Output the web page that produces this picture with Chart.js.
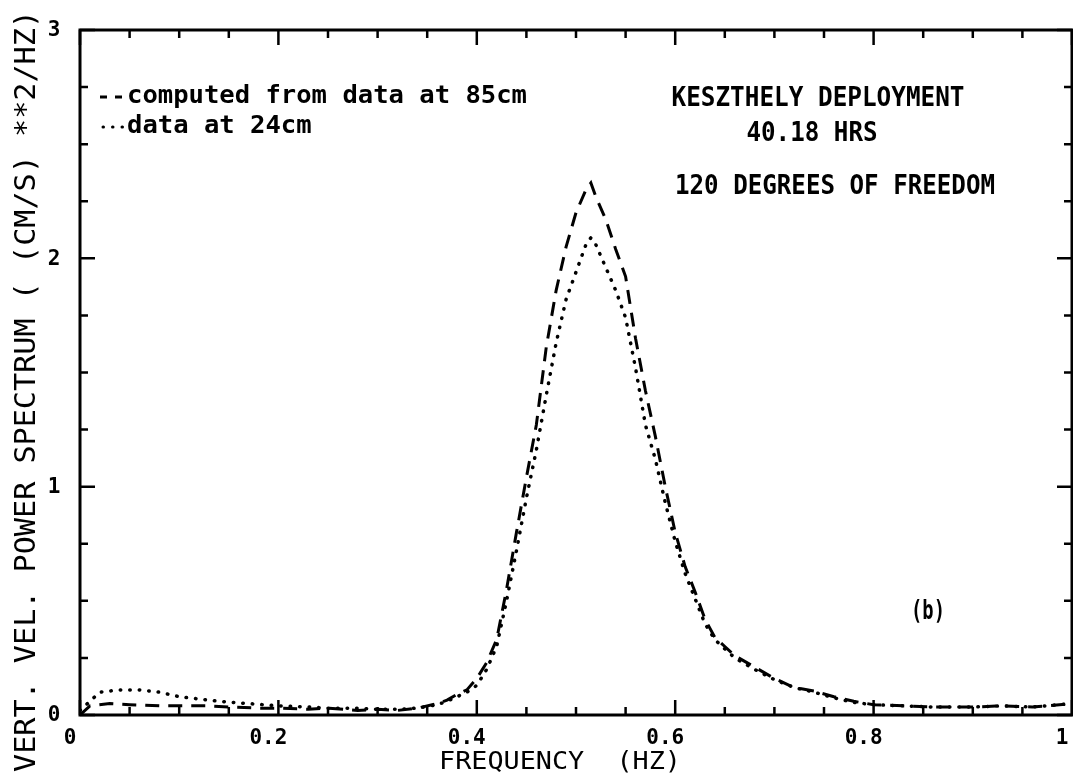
<!DOCTYPE html>
<html>
<head>
<meta charset="utf-8">
<script src="https://cdn.jsdelivr.net/npm/chart.js@4.4.1/dist/chart.umd.min.js"></script>
<style>
  html, body { margin: 0; padding: 0; background: #fff; }
  #spectrum { display: block; }
</style>
</head>
<body>
<canvas id="spectrum" width="1073" height="782"></canvas>
<script>
// Vertical velocity power spectrum, Keszthely deployment
const freqs85 = [0, 0.01, 0.03, 0.05, 0.08, 0.10, 0.13, 0.15, 0.18, 0.20, 0.23, 0.25, 0.28, 0.30,
  0.32, 0.34, 0.36, 0.37, 0.38, 0.39, 0.40, 0.41, 0.42, 0.43, 0.44, 0.45, 0.46, 0.47, 0.48, 0.49,
  0.50, 0.51, 0.515, 0.52, 0.53, 0.54, 0.55, 0.56, 0.57, 0.58, 0.59, 0.60, 0.61, 0.62, 0.63, 0.64,
  0.65, 0.66, 0.68, 0.70, 0.72, 0.74, 0.76, 0.78, 0.80, 0.83, 0.86, 0.90, 0.93, 0.96, 1.0];
const power85 = [0.0, 0.04, 0.05, 0.045, 0.04, 0.04, 0.04, 0.035, 0.03, 0.03, 0.025, 0.03, 0.02, 0.025,
  0.02, 0.03, 0.05, 0.065, 0.09, 0.11, 0.16, 0.23, 0.33, 0.55, 0.80, 1.04, 1.27, 1.61, 1.86, 2.05,
  2.20, 2.30, 2.33, 2.27, 2.17, 2.04, 1.92, 1.65, 1.42, 1.22, 1.00, 0.80, 0.65, 0.54, 0.42, 0.34,
  0.30, 0.26, 0.21, 0.16, 0.12, 0.105, 0.08, 0.06, 0.045, 0.04, 0.035, 0.035, 0.04, 0.035, 0.05];

const freqs24 = [0, 0.01, 0.02, 0.04, 0.06, 0.08, 0.10, 0.12, 0.14, 0.17, 0.20, 0.23, 0.25, 0.28,
  0.30, 0.32, 0.34, 0.36, 0.37, 0.38, 0.39, 0.40, 0.41, 0.42, 0.43, 0.44, 0.45, 0.46, 0.47, 0.48,
  0.49, 0.50, 0.51, 0.515, 0.52, 0.53, 0.54, 0.55, 0.56, 0.57, 0.58, 0.59, 0.60, 0.61, 0.62, 0.63,
  0.64, 0.65, 0.66, 0.68, 0.70, 0.72, 0.74, 0.76, 0.78, 0.80, 0.83, 0.86, 0.90, 0.93, 0.96, 1.0];
const power24 = [0.02, 0.06, 0.10, 0.11, 0.11, 0.10, 0.08, 0.07, 0.06, 0.05, 0.04, 0.035, 0.03, 0.03,
  0.025, 0.025, 0.03, 0.045, 0.06, 0.08, 0.10, 0.13, 0.20, 0.30, 0.50, 0.72, 0.95, 1.16, 1.40, 1.63,
  1.82, 1.94, 2.06, 2.09, 2.06, 1.96, 1.86, 1.74, 1.52, 1.27, 1.12, 0.93, 0.76, 0.62, 0.51, 0.40,
  0.33, 0.29, 0.25, 0.20, 0.155, 0.12, 0.10, 0.075, 0.055, 0.045, 0.04, 0.035, 0.035, 0.04, 0.035, 0.05];

const xTickLabels = ['0', '0.2', '0.4', '0.6', '0.8', '1'];
const yTickLabels = ['0', '1', '2', '3'];

const FONT = '"DejaVu Sans Mono", monospace';

// draw a string squeezed/stretched to a given width (plotter lettering is wide)
function fitText(ctx, text, cx, cy, width, size, weight) {
  ctx.save();
  ctx.font = (weight || 'bold') + ' ' + size + 'px ' + FONT;
  ctx.textAlign = 'center';
  ctx.textBaseline = 'middle';
  const w = ctx.measureText(text).width;
  ctx.translate(cx, cy);
  ctx.scale(width / w, 1);
  ctx.fillText(text, 0, 0);
  ctx.restore();
}

// frame with inward ticks on all four sides, labels and annotations
const framePlugin = {
  id: 'frame',
  afterDatasetsDraw(chart) {
    const ctx = chart.ctx;
    const a = chart.chartArea;
    const xs = chart.scales.x, ys = chart.scales.y;
    ctx.save();
    ctx.strokeStyle = '#000';
    ctx.fillStyle = '#000';
    ctx.lineWidth = 3;
    ctx.strokeRect(a.left, a.top, a.right - a.left, a.bottom - a.top);

    ctx.lineWidth = 2.5;
    ctx.beginPath();
    for (let i = 0; i <= 20; i++) {
      const px = xs.getPixelForValue(i * 0.05);
      const len = i % 4 === 0 ? 15 : 8;
      ctx.moveTo(px, a.bottom); ctx.lineTo(px, a.bottom - len);
      ctx.moveTo(px, a.top); ctx.lineTo(px, a.top + len);
    }
    for (let i = 0; i <= 12; i++) {
      const py = ys.getPixelForValue(i * 0.25);
      const len = i % 4 === 0 ? 15 : 8;
      ctx.moveTo(a.left, py); ctx.lineTo(a.left + len, py);
      ctx.moveTo(a.right, py); ctx.lineTo(a.right - len, py);
    }
    ctx.stroke();

    // tick labels (plotted a little left of the tick)
    ctx.font = 'bold 21px ' + FONT;
    ctx.textAlign = 'center';
    ctx.textBaseline = 'middle';
    xTickLabels.forEach(t => {
      ctx.fillText(t, xs.getPixelForValue(parseFloat(t)) - 10, a.bottom + 24);
    });
    yTickLabels.forEach(t => {
      ctx.fillText(t, a.left - 26, ys.getPixelForValue(parseFloat(t)) + 1);
    });

    // axis titles
    fitText(ctx, 'FREQUENCY  (HZ)', 560, 762, 242, 25, 'normal');
    ctx.save();
    ctx.translate(28, 391);
    ctx.rotate(-Math.PI / 2);
    fitText(ctx, 'VERT. VEL. POWER SPECTRUM ( (CM/S) **2/HZ)', 0, 0, 762, 28, 'normal');
    ctx.restore();

    // legend
    ctx.lineWidth = 3;
    ctx.setLineDash([7, 8]);
    ctx.beginPath(); ctx.moveTo(100, 97); ctx.lineTo(126, 97); ctx.stroke();
    ctx.lineCap = 'round';
    ctx.setLineDash([0.5, 9]);
    ctx.beginPath(); ctx.moveTo(103, 127); ctx.lineTo(124, 127); ctx.stroke();
    ctx.setLineDash([]);
    ctx.textAlign = 'left';
    ctx.save();
    ctx.font = 'bold 24px ' + FONT;
    const s1 = 'computed from data at 85cm';
    ctx.translate(127, 97);
    ctx.scale(400 / ctx.measureText(s1).width, 1);
    ctx.fillText(s1, 0, 0);
    ctx.restore();
    ctx.save();
    ctx.font = 'bold 24px ' + FONT;
    const s2 = 'data at 24cm';
    ctx.translate(127, 127);
    ctx.scale(400 / ctx.measureText(s1).width, 1);
    ctx.fillText(s2, 0, 0);
    ctx.restore();

    // run annotation
    fitText(ctx, 'KESZTHELY DEPLOYMENT', 818, 99, 293, 26, 'bold');
    fitText(ctx, '40.18 HRS', 812, 134, 131, 26, 'bold');
    fitText(ctx, '120 DEGREES OF FREEDOM', 835, 187, 320, 26, 'bold');
    fitText(ctx, '(b)', 928, 612, 34, 27, 'bold');
    ctx.restore();
  }
};

const toPoints = (fs, ps) => fs.map((f, i) => ({x: f, y: ps[i]}));

new Chart(document.getElementById('spectrum'), {
  type: 'line',
  data: {
    datasets: [
      {
        label: 'computed from data at 85cm',
        data: toPoints(freqs85, power85),
        borderColor: '#000',
        borderWidth: 3,
        borderDash: [14, 9],
        pointRadius: 0,
        tension: 0,
        fill: false
      },
      {
        label: 'data at 24cm',
        data: toPoints(freqs24, power24),
        borderColor: '#000',
        borderWidth: 3.5,
        borderDash: [0.5, 9],
        borderCapStyle: 'round',
        pointRadius: 0,
        tension: 0,
        fill: false
      }
    ]
  },
  options: {
    responsive: false,
    animation: false,
    devicePixelRatio: 1,
    layout: { padding: { left: 80, right: 1, top: 30, bottom: 67 } },
    plugins: {
      legend: { display: false },
      tooltip: { enabled: false }
    },
    scales: {
      x: { type: 'linear', min: 0, max: 1, display: false },
      y: { type: 'linear', min: 0, max: 3, display: false }
    }
  },
  plugins: [framePlugin]
});
</script>
</body>
</html>
